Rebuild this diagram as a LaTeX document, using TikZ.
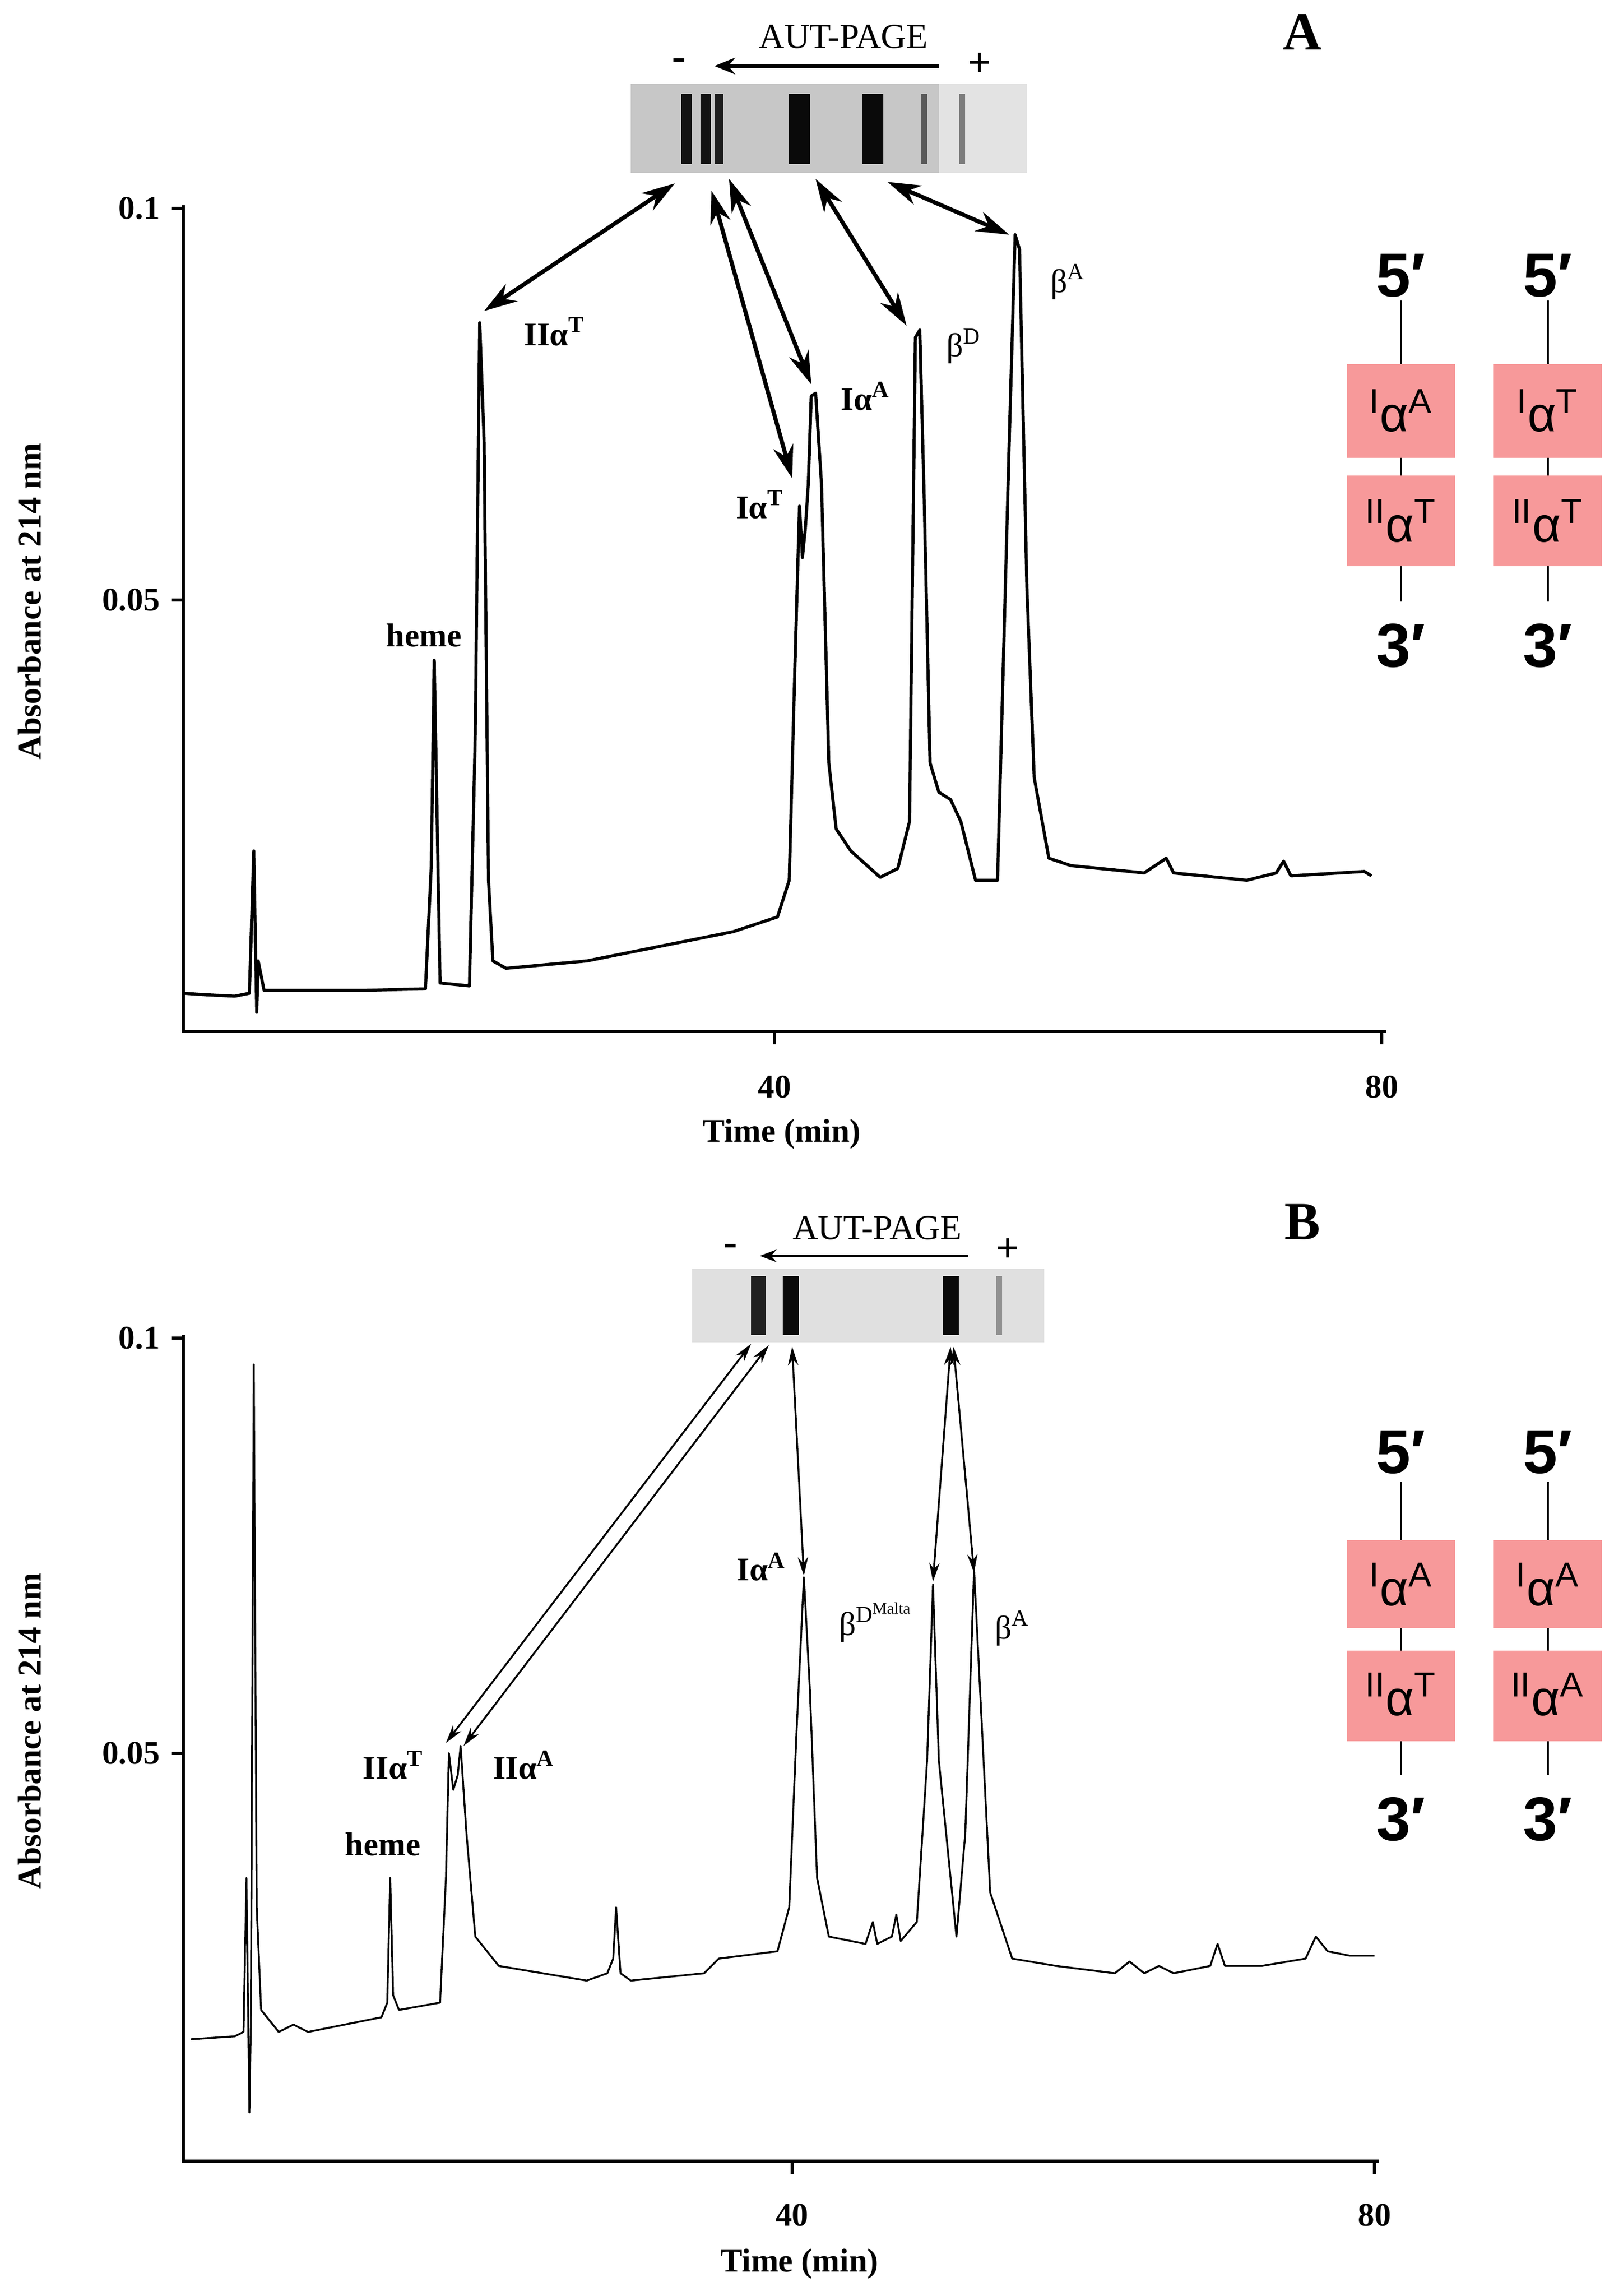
\documentclass[tikz,border=0pt]{standalone}
\usepackage{fontspec}
\setmainfont{Liberation Serif}
\newfontfamily\sansf{Liberation Sans}
\usetikzlibrary{arrows.meta}
\definecolor{boxc}{HTML}{F7999A}
\newcommand{\sps}[1]{\textsuperscript{#1}}
\begin{document}
\begin{tikzpicture}[x=0.025cm,y=-0.025cm,
  ax/.style={line width=1.6pt},
  tr/.style={line width=1.5pt,line join=round},
  trb/.style={line width=0.9pt,line join=round},
  lab/.style={font=\fontsize{16}{18}\selectfont\bfseries},
  plab/.style={font=\fontsize{16}{18}\selectfont},
  dA/.style={{Stealth[length=16pt,width=10pt]}-{Stealth[length=16pt,width=10pt]},line width=2pt},
  dB/.style={{Stealth[length=9pt,width=5pt]}-{Stealth[length=9pt,width=5pt]},line width=0.9pt},
  pr/.style={font=\sansf\bfseries\fontsize{30}{32}\selectfont},
  btx/.style={font=\sansf\fontsize{24}{26}\selectfont}]
\useasboundingbox (0,0) rectangle (1100,1565);
% ================= Panel A =================
\draw[ax] (125,140) -- (125,703) -- (945,703);
\draw[ax] (117,142) -- (125,142) (117,409) -- (125,409) (528,703) -- (528,712) (942,703) -- (942,712);
\node[lab,anchor=east] (ya1) at (114,142) {0.1};
\node[lab,anchor=east] (ya2) at (114,409) {0.05};
\node[lab] (xa1) at (528,741) {40};
\node[lab] (xa2) at (942,741) {80};
\node[lab] (xta) at (533,773) {Time (min)};
\node[lab,rotate=90] (yta) at (20,410) {Absorbance at 214 nm};
\node[font=\fontsize{26}{28}\selectfont\bfseries] (A) at (888,22) {A};
\draw[tr] plot coordinates {(125,677) (140,678) (160,679) (170,677) (173,580) (175,690) (176,655) (180,675) (200,675) (250,675) (290,674) (294,590) (296,450) (298,560) (300,670) (320,672) (324,500) (327,220) (330,300) (333,600) (336,655) (345,660) (400,655) (450,645) (500,635) (530,625) (538,600) (542,450) (545,345) (547,380) (549,360) (551,330) (553,270) (556,268) (560,330) (565,520) (570,565) (580,580) (600,598) (612,592) (620,560) (624,230) (627,225) (630,340) (634,520) (640,540) (648,545) (655,560) (665,600) (680,600) (688,300) (692,160) (695,170) (700,400) (705,530) (715,585) (730,590) (780,595) (795,585) (800,595) (850,600) (870,595) (875,587) (880,597) (930,594) (935,597)};
\node[lab] (hemeA) at (289,433) {heme};
\node[lab] (IIaTA) at (378,226) {IIα\sps{T}};
\node[lab] (IaTA) at (518,344) {Iα\sps{T}};
\node[lab] (IaAA) at (590,270) {Iα\sps{A}};
\node[plab] (bDA) at (657,236) {β\sps{D}};
\node[plab] (bAA) at (728,192) {β\sps{A}};
% gel A
\fill[black!22] (430,57) rectangle (700,118);
\fill[white,opacity=0.5] (640,57) rectangle (700,118);
\foreach \x/\w/\d in {468/7/90,481/7/90,490/6/85,545/14/95,595/14/95,630/4/55,656/4/45}
  \fill[black,opacity=0.\d] (\x-\w/2,64) rectangle (\x+\w/2,112);
\node[plab,font=\fontsize{17}{19}\selectfont] (autA) at (575,25) {AUT-PAGE};
\coordinate (arA1) at (640,45); \coordinate (arA2) at (487,45);
\draw[-{Stealth[length=10pt,width=8pt]},line width=2pt] (arA1) -- (arA2);
\node[font=\fontsize{20}{22}\selectfont\bfseries] (mA) at (463,44) {-};
\node[font=\fontsize{20}{22}\selectfont\bfseries] (pA) at (668,44) {+};
\coordinate (g1) at (460,125); \coordinate (p1) at (330,212);
\coordinate (g2) at (485,130); \coordinate (p2) at (540,326);
\coordinate (g3) at (497,122); \coordinate (p3) at (553,262);
\coordinate (g4) at (556,122); \coordinate (p4) at (618,222);
\coordinate (g5) at (605,124); \coordinate (p5) at (688,160);
\foreach \i in {1,...,5} \draw[dA] (g\i) -- (p\i);
% boxes A
\foreach \cx/\ta/\tb in {955/{\sps{I}α\sps{A}}/{\sps{II}α\sps{T}},1055/{\sps{I}α\sps{T}}/{\sps{II}α\sps{T}}}{
  \draw[line width=1pt] (\cx,205) -- (\cx,410);
  \fill[boxc] (\cx-37,248) rectangle (\cx+37,312);
  \fill[boxc] (\cx-37,324) rectangle (\cx+37,386);
  \node[btx] at (\cx,280) {\ta};
  \node[btx] at (\cx,355) {\tb};
  \node[pr] at (\cx,188) {5′};
  \node[pr] at (\cx,440) {3′};
}
% ================= Panel B =================
\draw[ax] (125,910) -- (125,1473) -- (940,1473);
\draw[ax] (117,912) -- (125,912) (117,1195) -- (125,1195) (540,1473) -- (540,1482) (937,1473) -- (937,1482);
\node[lab,anchor=east] (yb1) at (114,912) {0.1};
\node[lab,anchor=east] (yb2) at (114,1195) {0.05};
\node[lab] (xb1) at (540,1510) {40};
\node[lab] (xb2) at (937,1510) {80};
\node[lab] (xtb) at (545,1543) {Time (min)};
\node[lab,rotate=90] (ytb) at (20,1180) {Absorbance at 214 nm};
\node[font=\fontsize{26}{28}\selectfont\bfseries] (B) at (888,833) {B};
\draw[trb] plot coordinates {(130,1390) (160,1388) (166,1385) (168,1280) (170,1440) (171,1380) (173,930) (175,1300) (178,1370) (182,1375) (190,1385) (200,1380) (210,1385) (260,1375) (264,1365) (266,1280) (268,1360) (272,1370) (300,1365) (304,1280) (306,1195) (309,1220) (312,1210) (314,1190) (318,1250) (324,1320) (340,1340) (400,1350) (414,1345) (418,1335) (420,1300) (423,1345) (430,1350) (480,1345) (490,1335) (530,1330) (538,1300) (543,1180) (548,1075) (552,1150) (557,1280) (565,1320) (590,1325) (595,1310) (598,1325) (608,1320) (611,1305) (614,1323) (625,1310) (632,1200) (636,1080) (640,1200) (652,1320) (658,1250) (664,1070) (668,1150) (675,1290) (690,1335) (720,1340) (760,1345) (770,1337) (780,1345) (790,1340) (800,1345) (825,1340) (830,1325) (835,1340) (860,1340) (890,1335) (897,1320) (905,1330) (920,1333) (937,1333)};
\node[lab] (hemeB) at (261,1257) {heme};
\node[lab] (IIaTB) at (268,1203) {IIα\sps{T}};
\node[lab] (IIaAB) at (357,1203) {IIα\sps{A}};
\node[lab] (IaAB) at (519,1068) {Iα\sps{A}};
\node[plab] (bDB) at (597,1106) {β\sps{D\sps{Malta}}};
\node[plab] (bAB) at (690,1110) {β\sps{A}};
% gel B
\fill[black!12] (472,865) rectangle (712,915);
\foreach \x/\w/\d in {517/10/85,539/11/95,648/11/95,681/4/35}
  \fill[black,opacity=0.\d] (\x-\w/2,870) rectangle (\x+\w/2,910);
\node[plab,font=\fontsize{17}{19}\selectfont] (autB) at (598,837) {AUT-PAGE};
\coordinate (arB1) at (660,856); \coordinate (arB2) at (518,856);
\draw[-{Stealth[length=8pt,width=6pt]},line width=1pt] (arB1) -- (arB2);
\node[font=\fontsize{20}{22}\selectfont\bfseries] (mB) at (498,852) {-};
\node[font=\fontsize{20}{22}\selectfont\bfseries] (pB) at (687,852) {+};
\coordinate (h1) at (512,916); \coordinate (q1) at (304,1188);
\coordinate (h2) at (524,917); \coordinate (q2) at (316,1190);
\coordinate (h3) at (540,918); \coordinate (q3) at (548,1074);
\coordinate (h4) at (648,918); \coordinate (q4) at (636,1078);
\coordinate (h5) at (650,918); \coordinate (q5) at (664,1072);
\foreach \i in {1,...,5} \draw[dB] (h\i) -- (q\i);
% boxes B
\foreach \cx/\ta/\tb in {955/{\sps{I}α\sps{A}}/{\sps{II}α\sps{T}},1055/{\sps{I}α\sps{A}}/{\sps{II}α\sps{A}}}{
  \draw[line width=1pt] (\cx,1010) -- (\cx,1210);
  \fill[boxc] (\cx-37,1050) rectangle (\cx+37,1110);
  \fill[boxc] (\cx-37,1125) rectangle (\cx+37,1187);
  \node[btx] at (\cx,1080) {\ta};
  \node[btx] at (\cx,1155) {\tb};
  \node[pr] at (\cx,990) {5′};
  \node[pr] at (\cx,1240) {3′};
}
\end{tikzpicture}
\end{document}
